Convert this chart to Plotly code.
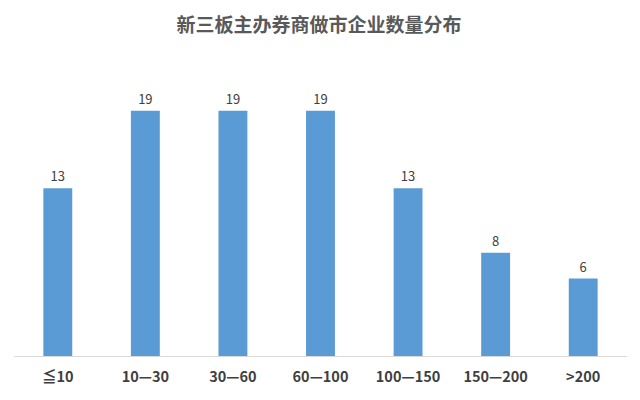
import plotly.graph_objects as go

categories = ["≦10", "10—30", "30—60", "60—100", "100—150", "150—200", ">200"]
values = [13, 19, 19, 19, 13, 8, 6]
title = "新三板主办券商做市企业数量分布"

FONT = "Noto Sans CJK SC, sans-serif"

fig = go.Figure(go.Bar(
    x=categories, y=values,
    marker=dict(color="#5B9BD5", line=dict(width=0)),
    text=[str(v) for v in values], textposition="outside",
    textfont=dict(family=FONT, size=13, color="#404040"),
    cliponaxis=False,
))
fig.update_layout(
    width=632, height=392,
    margin=dict(l=6, r=13, t=51, b=44),
    paper_bgcolor="white", plot_bgcolor="white",
    bargap=0.67,
    showlegend=False,
    title=dict(text="<b>" + title + "</b>", x=0.492, xanchor="center", y=0.955, yanchor="middle",
               font=dict(family=FONT, size=19, color="#595959")),
    xaxis=dict(showgrid=False, showline=True, linecolor="#D9D9D9", linewidth=1,
               ticks="outside", ticklen=8, tickcolor="rgba(0,0,0,0)",
               tickfont=dict(family=FONT, size=14.5, color="#404040", weight="bold"),
               fixedrange=True),
    yaxis=dict(range=[0, 23], visible=False, showgrid=False, zeroline=False, fixedrange=True),
)
fig.write_html("out.html")
